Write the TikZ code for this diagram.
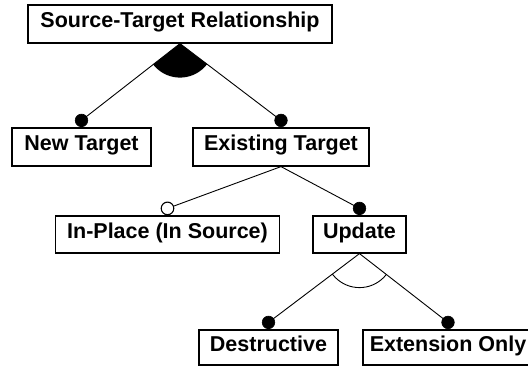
\documentclass[tikz,border=0pt]{standalone}
\usepackage{fontspec}
\setmainfont{Liberation Sans}
\usetikzlibrary{calc}

\tikzset{
  feature/.style={draw=black, line width=1.2pt, fill=white, inner sep=0pt,
    text height=0.72em, text depth=0pt, align=center,
    font=\fontsize{21.5}{24}\selectfont\bfseries},
  link/.style={line width=0.9pt, black},
  mandatory/.style={fill=black, draw=black, line width=0.6pt},
  optional/.style={fill=white, draw=black, line width=1.1pt},
  groupsize/.store in=\groupsize, groupsize=34
}

\begin{document}
\begin{tikzpicture}[x=1pt, y=-1pt]
  \useasboundingbox (0,0) rectangle (528,367);
  \clip (0,0) rectangle (528,367);
  \fill[white] (0,0) rectangle (528,367);

  % feature boxes
  \node[feature, minimum width=304pt, minimum height=38pt] (src)     at (180,24)      {Source-Target Relationship};
  \node[feature, minimum width=139pt, minimum height=38pt] (newt)    at (81.5,147)    {New Target};
  \node[feature, minimum width=176pt, minimum height=38pt] (exist)   at (281,147)     {Existing Target};
  \node[feature, minimum width=224pt, minimum height=37pt] (inplace) at (167.5,234.5) {In-Place (In Source)};
  \node[feature, minimum width=93pt,  minimum height=37pt] (update)  at (359.5,234.5) {Update};
  \node[feature, minimum width=139pt, minimum height=35pt] (destr)   at (268.5,347.5) {Destructive};
  \node[feature, minimum width=170pt, minimum height=35pt] (ext)     at (448,347.5)   {Extension Only};

  % end points of the connectors, just above each child box
  \coordinate (pnew)     at ($(newt.north)+(0,-7)$);
  \coordinate (pexist)   at ($(exist.north)+(0,-7)$);
  \coordinate (pinplace) at ($(inplace.north)+(0,-7)$);
  \coordinate (pupdate)  at ($(update.north)+(0,-7)$);
  \coordinate (pdestr)   at ($(destr.north)+(0,-7)$);
  \coordinate (pext)     at ($(ext.north)+(0,-7)$);

  % alternative group (filled sector)
  \begin{scope}
    \clip (src.south) -- (pnew) -- (pexist) -- cycle;
    \fill[black] (src.south) circle[radius=\groupsize];
  \end{scope}

  % or group (open arc)
  \begin{scope}
    \clip (update.south) -- (pdestr) -- (pext) -- cycle;
    \draw[link] (update.south) circle[radius=\groupsize];
  \end{scope}

  % connectors
  \draw[link] (src.south) -- (pnew) -- (newt.north);
  \draw[link] (src.south) -- (pexist) -- (exist.north);
  \draw[link] (exist.south) -- (pinplace);
  \draw[link] (exist.south) -- (pupdate) -- (update.north);
  \draw[link] (update.south) -- (pdestr) -- (destr.north);
  \draw[link] (update.south) -- (pext) -- (ext.north);

  % mandatory / optional markers
  \fill[mandatory] (pnew) circle[radius=6.3];
  \fill[mandatory] (pexist) circle[radius=6.3];
  \filldraw[optional] (pinplace) circle[radius=6.3];
  \fill[mandatory] (pupdate) circle[radius=6.3];
  \fill[mandatory] (pdestr) circle[radius=6.3];
  \fill[mandatory] (pext) circle[radius=6.3];
\end{tikzpicture}
\end{document}
